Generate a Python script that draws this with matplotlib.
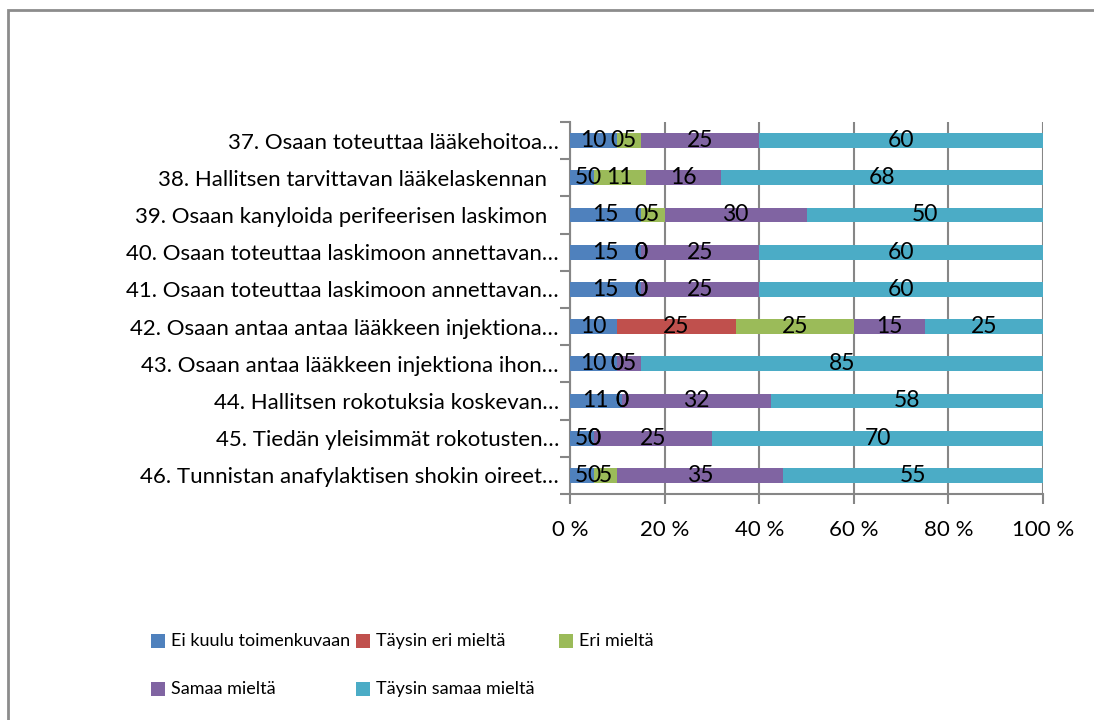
import numpy as np
import matplotlib.pyplot as plt
from matplotlib.patches import Rectangle
from matplotlib.ticker import FixedLocator

plt.rcParams['font.family'] = ['Lato', 'DejaVu Sans']

questions = [
    "37. Osaan toteuttaa lääkehoitoa…",
    "38. Hallitsen tarvittavan lääkelaskennan  ",
    "39. Osaan kanyloida perifeerisen laskimon  ",
    "40. Osaan toteuttaa laskimoon annettavan…",
    "41. Osaan toteuttaa laskimoon annettavan…",
    "42. Osaan antaa antaa lääkkeen injektiona…",
    "43. Osaan antaa lääkkeen injektiona ihon…",
    "44. Hallitsen rokotuksia koskevan…",
    "45. Tiedän yleisimmät rokotusten…",
    "46. Tunnistan anafylaktisen shokin oireet…",
]
series_names = ["Ei kuulu toimenkuvaan", "Täysin eri mieltä", "Eri mieltä",
                "Samaa mieltä", "Täysin samaa mieltä"]
colors = ["#4F81BD", "#C0504D", "#9BBB59", "#8064A2", "#4BACC6"]

ei_kuulu = [10, 5, 15, 15, 15, 10, 10, 11, 5, 5]
taysin_eri = [0, 0, 0, 0, 0, 25, 0, 0, 0, 0]
eri = [5, 11, 5, 0, 0, 25, 0, 0, 0, 5]
samaa = [25, 16, 30, 25, 25, 15, 5, 32, 25, 35]
taysin_samaa = [60, 68, 50, 60, 60, 25, 85, 58, 70, 55]
values = [ei_kuulu, taysin_eri, eri, samaa, taysin_samaa]

xticks = [0, 20, 40, 60, 80, 100]

fig = plt.figure(figsize=(10.94, 7.2), dpi=100)
ax = fig.add_axes([570 / 1094, 1 - 494 / 720, 473 / 1094, 372 / 720])

# chart border (right and bottom edges fall outside the image)
fig.patches.append(Rectangle((8 / 1094, -0.05), 1.2, 1 - 10 / 720 + 0.05,
                             transform=fig.transFigure, fill=False,
                             edgecolor="#8c8c8c", linewidth=2, zorder=0))

y = np.arange(len(questions))
totals = np.sum(np.array(values, dtype=float), axis=0)
left = np.zeros(len(questions))
for name, vals, c in zip(series_names, values, colors):
    vals = np.array(vals, dtype=float)
    pct = vals / totals * 100
    ax.barh(y, pct, left=left, height=0.4, color=c, zorder=3)
    for yi, l, w, v in zip(y, left, pct, vals):
        ax.text(l + w / 2, yi, f"{int(v)}", ha="center", va="center",
                fontsize=16.5, color="black", zorder=4)
    left += pct

ax.set_xlim(0, 100)
ax.set_ylim(len(questions) - 0.5, -0.5)
ax.set_xticks(xticks)
ax.set_xticklabels([f"{t} %" for t in xticks], fontsize=16)
ax.set_yticks(y)
ax.set_yticklabels(questions, fontsize=16)
ax.yaxis.set_minor_locator(FixedLocator(np.arange(-0.5, len(questions), 1)))
ax.tick_params(axis="y", which="major", length=0, pad=8)
ax.tick_params(axis="y", which="minor", length=7, width=1.5, color="#868686")
ax.tick_params(axis="x", length=7, width=1.5, color="#868686", pad=12)
ax.grid(axis="x", color="#868686", linewidth=1.5, zorder=1)
for s in ["top", "right"]:
    ax.spines[s].set_visible(False)
for s in ["left", "bottom"]:
    ax.spines[s].set_color("#868686")
    ax.spines[s].set_linewidth(1.5)

# legend laid out like the original (3 equal columns, 2 rows)
leg_pos = [(151, 641), (356, 641), (559, 641), (151, 689), (356, 689)]
for (px, py), name, c in zip(leg_pos, series_names, colors):
    fig.patches.append(Rectangle((px / 1094, 1 - (py + 7) / 720), 14 / 1094, 14 / 720,
                                 transform=fig.transFigure, facecolor=c,
                                 edgecolor="none"))
    fig.text((px + 20) / 1094, 1 - py / 720, name, fontsize=13,
             ha="left", va="center")

fig.savefig("out.png", dpi=100)
